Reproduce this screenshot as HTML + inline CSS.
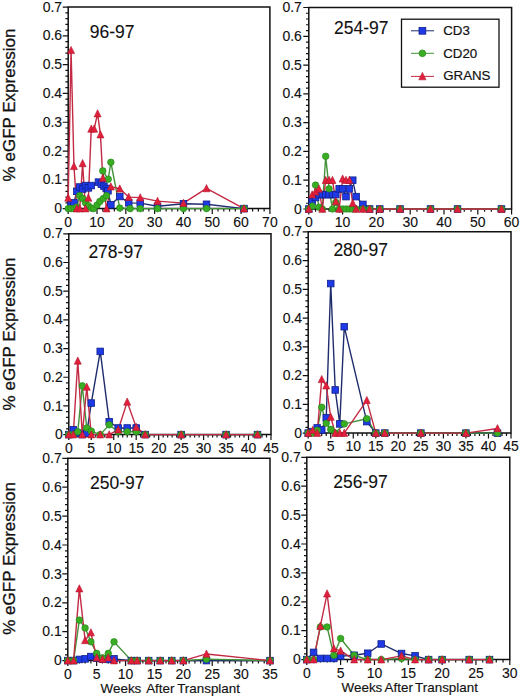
<!DOCTYPE html>
<html><head><meta charset="utf-8"><style>
html,body{margin:0;padding:0;background:#fff;overflow:hidden;width:520px;height:696px;}
svg{display:block;}
text{font-family:"Liberation Sans", sans-serif;fill:#111;}
.t{font-size:14px;stroke:#111;stroke-width:0.12px;}
.ti{font-size:17.5px;stroke:#111;stroke-width:0.1px;}
.yl{font-size:17px;stroke:#111;stroke-width:0.3px;}
.xl{font-size:13.4px;stroke:#111;stroke-width:0.15px;}
.lg{font-size:13.3px;stroke:#111;stroke-width:0.2px;}
</style></head><body>
<svg width="520" height="696" viewBox="0 0 520 696">
<rect width="520" height="696" fill="#fff"/>
<path d="M68.2 7.1H269.9V208.6H68.2Z" fill="none" stroke="#111" stroke-width="1.5"/>
<path d="M62.7 208.6H68.2M65.4 202.84H68.2M65.4 197.09H68.2M65.4 191.33H68.2M65.4 185.57H68.2M62.7 179.81H68.2M65.4 174.06H68.2M65.4 168.3H68.2M65.4 162.54H68.2M65.4 156.79H68.2M62.7 151.03H68.2M65.4 145.27H68.2M65.4 139.51H68.2M65.4 133.76H68.2M65.4 128H68.2M62.7 122.24H68.2M65.4 116.49H68.2M65.4 110.73H68.2M65.4 104.97H68.2M65.4 99.21H68.2M62.7 93.46H68.2M65.4 87.7H68.2M65.4 81.94H68.2M65.4 76.19H68.2M65.4 70.43H68.2M62.7 64.67H68.2M65.4 58.91H68.2M65.4 53.16H68.2M65.4 47.4H68.2M65.4 41.64H68.2M62.7 35.89H68.2M65.4 30.13H68.2M65.4 24.37H68.2M65.4 18.61H68.2M65.4 12.86H68.2M62.7 7.1H68.2M68.2 208.6V214.1M73.96 208.6V211.4M79.73 208.6V211.4M85.49 208.6V211.4M91.25 208.6V211.4M97.01 208.6V214.1M102.78 208.6V211.4M108.54 208.6V211.4M114.3 208.6V211.4M120.07 208.6V211.4M125.83 208.6V214.1M131.59 208.6V211.4M137.35 208.6V211.4M143.12 208.6V211.4M148.88 208.6V211.4M154.64 208.6V214.1M160.41 208.6V211.4M166.17 208.6V211.4M171.93 208.6V211.4M177.69 208.6V211.4M183.46 208.6V214.1M189.22 208.6V211.4M194.98 208.6V211.4M200.75 208.6V211.4M206.51 208.6V211.4M212.27 208.6V214.1M218.03 208.6V211.4M223.8 208.6V211.4M229.56 208.6V211.4M235.32 208.6V211.4M241.09 208.6V214.1M246.85 208.6V211.4M252.61 208.6V211.4M258.37 208.6V211.4M264.14 208.6V211.4M269.9 208.6V214.1" fill="none" stroke="#111" stroke-width="1.2"/>
<text x="62.1" y="213.2" text-anchor="end" class="t">0</text>
<text x="62.1" y="184.41" text-anchor="end" class="t">0.1</text>
<text x="62.1" y="155.63" text-anchor="end" class="t">0.2</text>
<text x="62.1" y="126.84" text-anchor="end" class="t">0.3</text>
<text x="62.1" y="98.06" text-anchor="end" class="t">0.4</text>
<text x="62.1" y="69.27" text-anchor="end" class="t">0.5</text>
<text x="62.1" y="40.49" text-anchor="end" class="t">0.6</text>
<text x="62.1" y="11.7" text-anchor="end" class="t">0.7</text>
<text x="68.2" y="226.6" text-anchor="middle" class="t">0</text>
<text x="97.01" y="226.6" text-anchor="middle" class="t">10</text>
<text x="125.83" y="226.6" text-anchor="middle" class="t">20</text>
<text x="154.64" y="226.6" text-anchor="middle" class="t">30</text>
<text x="183.46" y="226.6" text-anchor="middle" class="t">40</text>
<text x="212.27" y="226.6" text-anchor="middle" class="t">50</text>
<text x="241.09" y="226.6" text-anchor="middle" class="t">60</text>
<text x="269.9" y="226.6" text-anchor="middle" class="t">70</text>
<text x="89.7" y="37.9" class="ti">96-97</text>
<path d="M71.08 204.28L73.96 202.84L76.84 191.33L79.73 187.01L82.61 189.03L85.49 185.57L88.37 187.87L91.25 185.57L98.45 182.12L101.34 184.13L103.93 186.15L106.23 188.45L107.96 190.75L110.85 204.86L119.78 196.51L128.71 202.84L140.24 203.13L157.52 206.3L183.46 203.71L206.51 204.28L243.97 208.6" fill="none" stroke="#1f2d6e" stroke-width="1.4" stroke-linejoin="round"/>
<path d="M68.2 208.6L71.08 208.6L73.96 208.6L76.84 207.16L79.73 195.65L82.61 198.52L85.49 202.84L88.37 205.72L91.25 208.02L93.56 208.6L97.01 205.15L99.9 201.4L103.35 198.52L106.52 195.65L102.78 170.89L108.25 179.24L110.85 162.25L119.78 208.02L130.15 208.6L140.24 208.6L157.52 208.6L183.46 208.6L206.51 208.6L243.97 208.6" fill="none" stroke="#43933a" stroke-width="1.4" stroke-linejoin="round"/>
<path d="M68.2 197.95L71.08 50.28L73.96 166.28L76.84 208.6L79.73 208.6L82.61 163.41L85.49 208.6L88.37 197.95L91.25 128.86L94.13 128.86L97.59 113.61L100.47 134.62L102.78 178.09L106.52 208.6L110.85 186.72L119.78 188.74L128.71 197.09L140.24 197.66L157.52 201.12L183.46 203.13L206.51 188.45L243.97 208.6" fill="none" stroke="#c32a44" stroke-width="1.4" stroke-linejoin="round"/>
<rect x="67.78" y="200.98" width="6.6" height="6.6" fill="#1e3ae6" stroke="#12208a" stroke-width="0.8"/>
<rect x="70.66" y="199.54" width="6.6" height="6.6" fill="#1e3ae6" stroke="#12208a" stroke-width="0.8"/>
<rect x="73.54" y="188.03" width="6.6" height="6.6" fill="#1e3ae6" stroke="#12208a" stroke-width="0.8"/>
<rect x="76.43" y="183.71" width="6.6" height="6.6" fill="#1e3ae6" stroke="#12208a" stroke-width="0.8"/>
<rect x="79.31" y="185.73" width="6.6" height="6.6" fill="#1e3ae6" stroke="#12208a" stroke-width="0.8"/>
<rect x="82.19" y="182.27" width="6.6" height="6.6" fill="#1e3ae6" stroke="#12208a" stroke-width="0.8"/>
<rect x="85.07" y="184.57" width="6.6" height="6.6" fill="#1e3ae6" stroke="#12208a" stroke-width="0.8"/>
<rect x="87.95" y="182.27" width="6.6" height="6.6" fill="#1e3ae6" stroke="#12208a" stroke-width="0.8"/>
<rect x="95.16" y="178.82" width="6.6" height="6.6" fill="#1e3ae6" stroke="#12208a" stroke-width="0.8"/>
<rect x="98.04" y="180.83" width="6.6" height="6.6" fill="#1e3ae6" stroke="#12208a" stroke-width="0.8"/>
<rect x="100.63" y="182.85" width="6.6" height="6.6" fill="#1e3ae6" stroke="#12208a" stroke-width="0.8"/>
<rect x="102.93" y="185.15" width="6.6" height="6.6" fill="#1e3ae6" stroke="#12208a" stroke-width="0.8"/>
<rect x="104.66" y="187.45" width="6.6" height="6.6" fill="#1e3ae6" stroke="#12208a" stroke-width="0.8"/>
<rect x="107.55" y="201.56" width="6.6" height="6.6" fill="#1e3ae6" stroke="#12208a" stroke-width="0.8"/>
<rect x="116.48" y="193.21" width="6.6" height="6.6" fill="#1e3ae6" stroke="#12208a" stroke-width="0.8"/>
<rect x="125.41" y="199.54" width="6.6" height="6.6" fill="#1e3ae6" stroke="#12208a" stroke-width="0.8"/>
<rect x="136.94" y="199.83" width="6.6" height="6.6" fill="#1e3ae6" stroke="#12208a" stroke-width="0.8"/>
<rect x="154.22" y="203" width="6.6" height="6.6" fill="#1e3ae6" stroke="#12208a" stroke-width="0.8"/>
<rect x="180.16" y="200.41" width="6.6" height="6.6" fill="#1e3ae6" stroke="#12208a" stroke-width="0.8"/>
<rect x="203.21" y="200.98" width="6.6" height="6.6" fill="#1e3ae6" stroke="#12208a" stroke-width="0.8"/>
<rect x="240.67" y="205.3" width="6.6" height="6.6" fill="#1e3ae6" stroke="#12208a" stroke-width="0.8"/>
<circle cx="68.2" cy="208.6" r="3.3" fill="#3aae22" stroke="#20801a" stroke-width="0.6"/>
<circle cx="71.08" cy="208.6" r="3.3" fill="#3aae22" stroke="#20801a" stroke-width="0.6"/>
<circle cx="73.96" cy="208.6" r="3.3" fill="#3aae22" stroke="#20801a" stroke-width="0.6"/>
<circle cx="76.84" cy="207.16" r="3.3" fill="#3aae22" stroke="#20801a" stroke-width="0.6"/>
<circle cx="79.73" cy="195.65" r="3.3" fill="#3aae22" stroke="#20801a" stroke-width="0.6"/>
<circle cx="82.61" cy="198.52" r="3.3" fill="#3aae22" stroke="#20801a" stroke-width="0.6"/>
<circle cx="85.49" cy="202.84" r="3.3" fill="#3aae22" stroke="#20801a" stroke-width="0.6"/>
<circle cx="88.37" cy="205.72" r="3.3" fill="#3aae22" stroke="#20801a" stroke-width="0.6"/>
<circle cx="91.25" cy="208.02" r="3.3" fill="#3aae22" stroke="#20801a" stroke-width="0.6"/>
<circle cx="93.56" cy="208.6" r="3.3" fill="#3aae22" stroke="#20801a" stroke-width="0.6"/>
<circle cx="97.01" cy="205.15" r="3.3" fill="#3aae22" stroke="#20801a" stroke-width="0.6"/>
<circle cx="99.9" cy="201.4" r="3.3" fill="#3aae22" stroke="#20801a" stroke-width="0.6"/>
<circle cx="103.35" cy="198.52" r="3.3" fill="#3aae22" stroke="#20801a" stroke-width="0.6"/>
<circle cx="106.52" cy="195.65" r="3.3" fill="#3aae22" stroke="#20801a" stroke-width="0.6"/>
<circle cx="102.78" cy="170.89" r="3.3" fill="#3aae22" stroke="#20801a" stroke-width="0.6"/>
<circle cx="108.25" cy="179.24" r="3.3" fill="#3aae22" stroke="#20801a" stroke-width="0.6"/>
<circle cx="110.85" cy="162.25" r="3.3" fill="#3aae22" stroke="#20801a" stroke-width="0.6"/>
<circle cx="119.78" cy="208.02" r="3.3" fill="#3aae22" stroke="#20801a" stroke-width="0.6"/>
<circle cx="130.15" cy="208.6" r="3.3" fill="#3aae22" stroke="#20801a" stroke-width="0.6"/>
<circle cx="140.24" cy="208.6" r="3.3" fill="#3aae22" stroke="#20801a" stroke-width="0.6"/>
<circle cx="157.52" cy="208.6" r="3.3" fill="#3aae22" stroke="#20801a" stroke-width="0.6"/>
<circle cx="183.46" cy="208.6" r="3.3" fill="#3aae22" stroke="#20801a" stroke-width="0.6"/>
<circle cx="206.51" cy="208.6" r="3.3" fill="#3aae22" stroke="#20801a" stroke-width="0.6"/>
<circle cx="243.97" cy="208.6" r="3.3" fill="#3aae22" stroke="#20801a" stroke-width="0.6"/>
<path d="M68.2 194.05L71.7 201.25L64.7 201.25Z" fill="#e2203c" stroke="#b0142c" stroke-width="0.6"/>
<path d="M71.08 46.38L74.58 53.58L67.58 53.58Z" fill="#e2203c" stroke="#b0142c" stroke-width="0.6"/>
<path d="M73.96 162.38L77.46 169.59L70.46 169.59Z" fill="#e2203c" stroke="#b0142c" stroke-width="0.6"/>
<path d="M76.84 204.7L80.34 211.9L73.34 211.9Z" fill="#e2203c" stroke="#b0142c" stroke-width="0.6"/>
<path d="M79.73 204.7L83.23 211.9L76.23 211.9Z" fill="#e2203c" stroke="#b0142c" stroke-width="0.6"/>
<path d="M82.61 159.51L86.11 166.71L79.11 166.71Z" fill="#e2203c" stroke="#b0142c" stroke-width="0.6"/>
<path d="M85.49 204.7L88.99 211.9L81.99 211.9Z" fill="#e2203c" stroke="#b0142c" stroke-width="0.6"/>
<path d="M88.37 194.05L91.87 201.25L84.87 201.25Z" fill="#e2203c" stroke="#b0142c" stroke-width="0.6"/>
<path d="M91.25 124.96L94.75 132.16L87.75 132.16Z" fill="#e2203c" stroke="#b0142c" stroke-width="0.6"/>
<path d="M94.13 124.96L97.63 132.16L90.63 132.16Z" fill="#e2203c" stroke="#b0142c" stroke-width="0.6"/>
<path d="M97.59 109.71L101.09 116.91L94.09 116.91Z" fill="#e2203c" stroke="#b0142c" stroke-width="0.6"/>
<path d="M100.47 130.72L103.97 137.92L96.97 137.92Z" fill="#e2203c" stroke="#b0142c" stroke-width="0.6"/>
<path d="M102.78 174.19L106.28 181.39L99.28 181.39Z" fill="#e2203c" stroke="#b0142c" stroke-width="0.6"/>
<path d="M106.52 204.7L110.02 211.9L103.02 211.9Z" fill="#e2203c" stroke="#b0142c" stroke-width="0.6"/>
<path d="M110.85 182.82L114.35 190.02L107.35 190.02Z" fill="#e2203c" stroke="#b0142c" stroke-width="0.6"/>
<path d="M119.78 184.84L123.28 192.04L116.28 192.04Z" fill="#e2203c" stroke="#b0142c" stroke-width="0.6"/>
<path d="M128.71 193.19L132.21 200.39L125.21 200.39Z" fill="#e2203c" stroke="#b0142c" stroke-width="0.6"/>
<path d="M140.24 193.76L143.74 200.96L136.74 200.96Z" fill="#e2203c" stroke="#b0142c" stroke-width="0.6"/>
<path d="M157.52 197.22L161.02 204.42L154.02 204.42Z" fill="#e2203c" stroke="#b0142c" stroke-width="0.6"/>
<path d="M183.46 199.23L186.96 206.43L179.96 206.43Z" fill="#e2203c" stroke="#b0142c" stroke-width="0.6"/>
<path d="M206.51 184.55L210.01 191.75L203.01 191.75Z" fill="#e2203c" stroke="#b0142c" stroke-width="0.6"/>
<path d="M243.97 204.7L247.47 211.9L240.47 211.9Z" fill="#e2203c" stroke="#b0142c" stroke-width="0.6"/>
<path d="M308.8 7.5H511.6V209H308.8Z" fill="none" stroke="#111" stroke-width="1.5"/>
<path d="M303.3 209H308.8M306 203.24H308.8M306 197.49H308.8M306 191.73H308.8M306 185.97H308.8M303.3 180.21H308.8M306 174.46H308.8M306 168.7H308.8M306 162.94H308.8M306 157.19H308.8M303.3 151.43H308.8M306 145.67H308.8M306 139.91H308.8M306 134.16H308.8M306 128.4H308.8M303.3 122.64H308.8M306 116.89H308.8M306 111.13H308.8M306 105.37H308.8M306 99.61H308.8M303.3 93.86H308.8M306 88.1H308.8M306 82.34H308.8M306 76.59H308.8M306 70.83H308.8M303.3 65.07H308.8M306 59.31H308.8M306 53.56H308.8M306 47.8H308.8M306 42.04H308.8M303.3 36.29H308.8M306 30.53H308.8M306 24.77H308.8M306 19.01H308.8M306 13.26H308.8M303.3 7.5H308.8M308.8 209V214.5M315.56 209V211.8M322.32 209V211.8M329.08 209V211.8M335.84 209V211.8M342.6 209V214.5M349.36 209V211.8M356.12 209V211.8M362.88 209V211.8M369.64 209V211.8M376.4 209V214.5M383.16 209V211.8M389.92 209V211.8M396.68 209V211.8M403.44 209V211.8M410.2 209V214.5M416.96 209V211.8M423.72 209V211.8M430.48 209V211.8M437.24 209V211.8M444 209V214.5M450.76 209V211.8M457.52 209V211.8M464.28 209V211.8M471.04 209V211.8M477.8 209V214.5M484.56 209V211.8M491.32 209V211.8M498.08 209V211.8M504.84 209V211.8M511.6 209V214.5" fill="none" stroke="#111" stroke-width="1.2"/>
<text x="301.9" y="213.6" text-anchor="end" class="t">0</text>
<text x="301.9" y="184.81" text-anchor="end" class="t">0.1</text>
<text x="301.9" y="156.03" text-anchor="end" class="t">0.2</text>
<text x="301.9" y="127.24" text-anchor="end" class="t">0.3</text>
<text x="301.9" y="98.46" text-anchor="end" class="t">0.4</text>
<text x="301.9" y="69.67" text-anchor="end" class="t">0.5</text>
<text x="301.9" y="40.89" text-anchor="end" class="t">0.6</text>
<text x="301.9" y="12.1" text-anchor="end" class="t">0.7</text>
<text x="308.8" y="227" text-anchor="middle" class="t">0</text>
<text x="342.6" y="227" text-anchor="middle" class="t">10</text>
<text x="376.4" y="227" text-anchor="middle" class="t">20</text>
<text x="410.2" y="227" text-anchor="middle" class="t">30</text>
<text x="444" y="227" text-anchor="middle" class="t">40</text>
<text x="477.8" y="227" text-anchor="middle" class="t">50</text>
<text x="511.6" y="227" text-anchor="middle" class="t">60</text>
<text x="334" y="33.8" class="ti">254-97</text>
<path d="M308.8 209L312.18 201.52L315.56 197.49L318.94 194.61L322.32 194.61L325.7 194.61L329.08 194.61L332.46 194.61L335.84 194.61L339.22 188.85L342.6 188.85L345.98 196.62L349.36 188.85L352.74 180.21L356.12 196.62L362.88 204.39L369.64 209L379.78 209L400.06 209L430.48 209L457.52 209L501.46 209" fill="none" stroke="#1f2d6e" stroke-width="1.4" stroke-linejoin="round"/>
<path d="M308.8 209L312.18 206.12L315.56 185.11L318.94 207.27L322.32 209L325.7 156.32L329.08 188.85L332.46 209L335.84 202.38L339.22 209L342.6 209L345.98 209L349.36 209L352.74 209L356.12 209L362.88 209L369.64 209L379.78 209L400.06 209L430.48 209L457.52 209L501.46 209" fill="none" stroke="#43933a" stroke-width="1.4" stroke-linejoin="round"/>
<path d="M308.8 209L312.18 194.61L315.56 191.73L318.94 188.85L322.32 209L325.7 180.21L329.08 180.21L332.46 180.21L335.84 201.52L339.22 209L342.6 178.78L345.98 180.21L349.36 180.21L352.74 203.24L356.12 209L362.88 209L369.64 209L379.78 209L400.06 209L430.48 209L457.52 209L501.46 209" fill="none" stroke="#c32a44" stroke-width="1.4" stroke-linejoin="round"/>
<rect x="305.5" y="205.7" width="6.6" height="6.6" fill="#1e3ae6" stroke="#12208a" stroke-width="0.8"/>
<rect x="308.88" y="198.22" width="6.6" height="6.6" fill="#1e3ae6" stroke="#12208a" stroke-width="0.8"/>
<rect x="312.26" y="194.19" width="6.6" height="6.6" fill="#1e3ae6" stroke="#12208a" stroke-width="0.8"/>
<rect x="315.64" y="191.31" width="6.6" height="6.6" fill="#1e3ae6" stroke="#12208a" stroke-width="0.8"/>
<rect x="319.02" y="191.31" width="6.6" height="6.6" fill="#1e3ae6" stroke="#12208a" stroke-width="0.8"/>
<rect x="322.4" y="191.31" width="6.6" height="6.6" fill="#1e3ae6" stroke="#12208a" stroke-width="0.8"/>
<rect x="325.78" y="191.31" width="6.6" height="6.6" fill="#1e3ae6" stroke="#12208a" stroke-width="0.8"/>
<rect x="329.16" y="191.31" width="6.6" height="6.6" fill="#1e3ae6" stroke="#12208a" stroke-width="0.8"/>
<rect x="332.54" y="191.31" width="6.6" height="6.6" fill="#1e3ae6" stroke="#12208a" stroke-width="0.8"/>
<rect x="335.92" y="185.55" width="6.6" height="6.6" fill="#1e3ae6" stroke="#12208a" stroke-width="0.8"/>
<rect x="339.3" y="185.55" width="6.6" height="6.6" fill="#1e3ae6" stroke="#12208a" stroke-width="0.8"/>
<rect x="342.68" y="193.32" width="6.6" height="6.6" fill="#1e3ae6" stroke="#12208a" stroke-width="0.8"/>
<rect x="346.06" y="185.55" width="6.6" height="6.6" fill="#1e3ae6" stroke="#12208a" stroke-width="0.8"/>
<rect x="349.44" y="176.91" width="6.6" height="6.6" fill="#1e3ae6" stroke="#12208a" stroke-width="0.8"/>
<rect x="352.82" y="193.32" width="6.6" height="6.6" fill="#1e3ae6" stroke="#12208a" stroke-width="0.8"/>
<rect x="359.58" y="201.09" width="6.6" height="6.6" fill="#1e3ae6" stroke="#12208a" stroke-width="0.8"/>
<rect x="366.34" y="205.7" width="6.6" height="6.6" fill="#1e3ae6" stroke="#12208a" stroke-width="0.8"/>
<rect x="376.48" y="205.7" width="6.6" height="6.6" fill="#1e3ae6" stroke="#12208a" stroke-width="0.8"/>
<rect x="396.76" y="205.7" width="6.6" height="6.6" fill="#1e3ae6" stroke="#12208a" stroke-width="0.8"/>
<rect x="427.18" y="205.7" width="6.6" height="6.6" fill="#1e3ae6" stroke="#12208a" stroke-width="0.8"/>
<rect x="454.22" y="205.7" width="6.6" height="6.6" fill="#1e3ae6" stroke="#12208a" stroke-width="0.8"/>
<rect x="498.16" y="205.7" width="6.6" height="6.6" fill="#1e3ae6" stroke="#12208a" stroke-width="0.8"/>
<circle cx="308.8" cy="209" r="3.3" fill="#3aae22" stroke="#20801a" stroke-width="0.6"/>
<circle cx="312.18" cy="206.12" r="3.3" fill="#3aae22" stroke="#20801a" stroke-width="0.6"/>
<circle cx="315.56" cy="185.11" r="3.3" fill="#3aae22" stroke="#20801a" stroke-width="0.6"/>
<circle cx="318.94" cy="207.27" r="3.3" fill="#3aae22" stroke="#20801a" stroke-width="0.6"/>
<circle cx="322.32" cy="209" r="3.3" fill="#3aae22" stroke="#20801a" stroke-width="0.6"/>
<circle cx="325.7" cy="156.32" r="3.3" fill="#3aae22" stroke="#20801a" stroke-width="0.6"/>
<circle cx="329.08" cy="188.85" r="3.3" fill="#3aae22" stroke="#20801a" stroke-width="0.6"/>
<circle cx="332.46" cy="209" r="3.3" fill="#3aae22" stroke="#20801a" stroke-width="0.6"/>
<circle cx="335.84" cy="202.38" r="3.3" fill="#3aae22" stroke="#20801a" stroke-width="0.6"/>
<circle cx="339.22" cy="209" r="3.3" fill="#3aae22" stroke="#20801a" stroke-width="0.6"/>
<circle cx="342.6" cy="209" r="3.3" fill="#3aae22" stroke="#20801a" stroke-width="0.6"/>
<circle cx="345.98" cy="209" r="3.3" fill="#3aae22" stroke="#20801a" stroke-width="0.6"/>
<circle cx="349.36" cy="209" r="3.3" fill="#3aae22" stroke="#20801a" stroke-width="0.6"/>
<circle cx="352.74" cy="209" r="3.3" fill="#3aae22" stroke="#20801a" stroke-width="0.6"/>
<circle cx="356.12" cy="209" r="3.3" fill="#3aae22" stroke="#20801a" stroke-width="0.6"/>
<circle cx="362.88" cy="209" r="3.3" fill="#3aae22" stroke="#20801a" stroke-width="0.6"/>
<circle cx="369.64" cy="209" r="3.3" fill="#3aae22" stroke="#20801a" stroke-width="0.6"/>
<circle cx="379.78" cy="209" r="3.3" fill="#3aae22" stroke="#20801a" stroke-width="0.6"/>
<circle cx="400.06" cy="209" r="3.3" fill="#3aae22" stroke="#20801a" stroke-width="0.6"/>
<circle cx="430.48" cy="209" r="3.3" fill="#3aae22" stroke="#20801a" stroke-width="0.6"/>
<circle cx="457.52" cy="209" r="3.3" fill="#3aae22" stroke="#20801a" stroke-width="0.6"/>
<circle cx="501.46" cy="209" r="3.3" fill="#3aae22" stroke="#20801a" stroke-width="0.6"/>
<path d="M308.8 205.1L312.3 212.3L305.3 212.3Z" fill="#e2203c" stroke="#b0142c" stroke-width="0.6"/>
<path d="M312.18 190.71L315.68 197.91L308.68 197.91Z" fill="#e2203c" stroke="#b0142c" stroke-width="0.6"/>
<path d="M315.56 187.83L319.06 195.03L312.06 195.03Z" fill="#e2203c" stroke="#b0142c" stroke-width="0.6"/>
<path d="M318.94 184.95L322.44 192.15L315.44 192.15Z" fill="#e2203c" stroke="#b0142c" stroke-width="0.6"/>
<path d="M322.32 205.1L325.82 212.3L318.82 212.3Z" fill="#e2203c" stroke="#b0142c" stroke-width="0.6"/>
<path d="M325.7 176.31L329.2 183.51L322.2 183.51Z" fill="#e2203c" stroke="#b0142c" stroke-width="0.6"/>
<path d="M329.08 176.31L332.58 183.51L325.58 183.51Z" fill="#e2203c" stroke="#b0142c" stroke-width="0.6"/>
<path d="M332.46 176.31L335.96 183.51L328.96 183.51Z" fill="#e2203c" stroke="#b0142c" stroke-width="0.6"/>
<path d="M335.84 197.62L339.34 204.82L332.34 204.82Z" fill="#e2203c" stroke="#b0142c" stroke-width="0.6"/>
<path d="M339.22 205.1L342.72 212.3L335.72 212.3Z" fill="#e2203c" stroke="#b0142c" stroke-width="0.6"/>
<path d="M342.6 174.88L346.1 182.08L339.1 182.08Z" fill="#e2203c" stroke="#b0142c" stroke-width="0.6"/>
<path d="M345.98 176.31L349.48 183.51L342.48 183.51Z" fill="#e2203c" stroke="#b0142c" stroke-width="0.6"/>
<path d="M349.36 176.31L352.86 183.51L345.86 183.51Z" fill="#e2203c" stroke="#b0142c" stroke-width="0.6"/>
<path d="M352.74 199.34L356.24 206.54L349.24 206.54Z" fill="#e2203c" stroke="#b0142c" stroke-width="0.6"/>
<path d="M356.12 205.1L359.62 212.3L352.62 212.3Z" fill="#e2203c" stroke="#b0142c" stroke-width="0.6"/>
<path d="M362.88 205.1L366.38 212.3L359.38 212.3Z" fill="#e2203c" stroke="#b0142c" stroke-width="0.6"/>
<path d="M369.64 205.1L373.14 212.3L366.14 212.3Z" fill="#e2203c" stroke="#b0142c" stroke-width="0.6"/>
<path d="M379.78 205.1L383.28 212.3L376.28 212.3Z" fill="#e2203c" stroke="#b0142c" stroke-width="0.6"/>
<path d="M400.06 205.1L403.56 212.3L396.56 212.3Z" fill="#e2203c" stroke="#b0142c" stroke-width="0.6"/>
<path d="M430.48 205.1L433.98 212.3L426.98 212.3Z" fill="#e2203c" stroke="#b0142c" stroke-width="0.6"/>
<path d="M457.52 205.1L461.02 212.3L454.02 212.3Z" fill="#e2203c" stroke="#b0142c" stroke-width="0.6"/>
<path d="M501.46 205.1L504.96 212.3L497.96 212.3Z" fill="#e2203c" stroke="#b0142c" stroke-width="0.6"/>
<path d="M68.8 233.8H271V434.6H68.8Z" fill="none" stroke="#111" stroke-width="1.5"/>
<path d="M63.3 434.6H68.8M66 428.86H68.8M66 423.13H68.8M66 417.39H68.8M66 411.65H68.8M63.3 405.91H68.8M66 400.18H68.8M66 394.44H68.8M66 388.7H68.8M66 382.97H68.8M63.3 377.23H68.8M66 371.49H68.8M66 365.75H68.8M66 360.02H68.8M66 354.28H68.8M63.3 348.54H68.8M66 342.81H68.8M66 337.07H68.8M66 331.33H68.8M66 325.59H68.8M63.3 319.86H68.8M66 314.12H68.8M66 308.38H68.8M66 302.65H68.8M66 296.91H68.8M63.3 291.17H68.8M66 285.43H68.8M66 279.7H68.8M66 273.96H68.8M66 268.22H68.8M63.3 262.49H68.8M66 256.75H68.8M66 251.01H68.8M66 245.27H68.8M66 239.54H68.8M63.3 233.8H68.8M68.8 434.6V440.1M73.29 434.6V437.4M77.79 434.6V437.4M82.28 434.6V437.4M86.77 434.6V437.4M91.27 434.6V440.1M95.76 434.6V437.4M100.25 434.6V437.4M104.75 434.6V437.4M109.24 434.6V437.4M113.73 434.6V440.1M118.23 434.6V437.4M122.72 434.6V437.4M127.21 434.6V437.4M131.71 434.6V437.4M136.2 434.6V440.1M140.69 434.6V437.4M145.19 434.6V437.4M149.68 434.6V437.4M154.17 434.6V437.4M158.67 434.6V440.1M163.16 434.6V437.4M167.65 434.6V437.4M172.15 434.6V437.4M176.64 434.6V437.4M181.13 434.6V440.1M185.63 434.6V437.4M190.12 434.6V437.4M194.61 434.6V437.4M199.11 434.6V437.4M203.6 434.6V440.1M208.09 434.6V437.4M212.59 434.6V437.4M217.08 434.6V437.4M221.57 434.6V437.4M226.07 434.6V440.1M230.56 434.6V437.4M235.05 434.6V437.4M239.55 434.6V437.4M244.04 434.6V437.4M248.53 434.6V440.1M253.03 434.6V437.4M257.52 434.6V437.4M262.01 434.6V437.4M266.51 434.6V437.4M271 434.6V440.1" fill="none" stroke="#111" stroke-width="1.2"/>
<text x="62.7" y="439.2" text-anchor="end" class="t">0</text>
<text x="62.7" y="410.51" text-anchor="end" class="t">0.1</text>
<text x="62.7" y="381.83" text-anchor="end" class="t">0.2</text>
<text x="62.7" y="353.14" text-anchor="end" class="t">0.3</text>
<text x="62.7" y="324.46" text-anchor="end" class="t">0.4</text>
<text x="62.7" y="295.77" text-anchor="end" class="t">0.5</text>
<text x="62.7" y="267.09" text-anchor="end" class="t">0.6</text>
<text x="62.7" y="238.4" text-anchor="end" class="t">0.7</text>
<text x="68.8" y="452.6" text-anchor="middle" class="t">0</text>
<text x="91.27" y="452.6" text-anchor="middle" class="t">5</text>
<text x="113.73" y="452.6" text-anchor="middle" class="t">10</text>
<text x="136.2" y="452.6" text-anchor="middle" class="t">15</text>
<text x="158.67" y="452.6" text-anchor="middle" class="t">20</text>
<text x="181.13" y="452.6" text-anchor="middle" class="t">25</text>
<text x="203.6" y="452.6" text-anchor="middle" class="t">30</text>
<text x="226.07" y="452.6" text-anchor="middle" class="t">35</text>
<text x="248.53" y="452.6" text-anchor="middle" class="t">40</text>
<text x="271" y="452.6" text-anchor="middle" class="t">45</text>
<text x="88.4" y="258.2" class="ti">278-97</text>
<path d="M68.8 434.6L73.29 429.72L77.79 433.17L82.28 434.6L86.77 433.17L91.27 403.05L100.25 351.41L109.24 421.69L118.23 428L127.21 428L136.2 428L145.19 434.6L181.13 434.6L226.07 434.6L257.52 434.6" fill="none" stroke="#1f2d6e" stroke-width="1.4" stroke-linejoin="round"/>
<path d="M68.8 434.6L73.29 434.6L77.79 431.73L82.28 385.83L86.77 428L91.27 431.16L100.25 434.6L109.24 424.85L118.23 431.73L127.21 431.73L136.2 431.73L145.19 434.6L181.13 434.6L226.07 434.6L257.52 434.6" fill="none" stroke="#43933a" stroke-width="1.4" stroke-linejoin="round"/>
<path d="M68.8 434.6L73.29 434.6L77.79 360.88L82.28 434.6L86.77 386.98L91.27 434.6L100.25 434.6L109.24 434.6L118.23 429.72L127.21 401.9L136.2 427.14L145.19 434.6L181.13 434.6L226.07 434.6L257.52 434.6" fill="none" stroke="#c32a44" stroke-width="1.4" stroke-linejoin="round"/>
<rect x="65.5" y="431.3" width="6.6" height="6.6" fill="#1e3ae6" stroke="#12208a" stroke-width="0.8"/>
<rect x="69.99" y="426.42" width="6.6" height="6.6" fill="#1e3ae6" stroke="#12208a" stroke-width="0.8"/>
<rect x="74.49" y="429.87" width="6.6" height="6.6" fill="#1e3ae6" stroke="#12208a" stroke-width="0.8"/>
<rect x="78.98" y="431.3" width="6.6" height="6.6" fill="#1e3ae6" stroke="#12208a" stroke-width="0.8"/>
<rect x="83.47" y="429.87" width="6.6" height="6.6" fill="#1e3ae6" stroke="#12208a" stroke-width="0.8"/>
<rect x="87.97" y="399.75" width="6.6" height="6.6" fill="#1e3ae6" stroke="#12208a" stroke-width="0.8"/>
<rect x="96.95" y="348.11" width="6.6" height="6.6" fill="#1e3ae6" stroke="#12208a" stroke-width="0.8"/>
<rect x="105.94" y="418.39" width="6.6" height="6.6" fill="#1e3ae6" stroke="#12208a" stroke-width="0.8"/>
<rect x="114.93" y="424.7" width="6.6" height="6.6" fill="#1e3ae6" stroke="#12208a" stroke-width="0.8"/>
<rect x="123.91" y="424.7" width="6.6" height="6.6" fill="#1e3ae6" stroke="#12208a" stroke-width="0.8"/>
<rect x="132.9" y="424.7" width="6.6" height="6.6" fill="#1e3ae6" stroke="#12208a" stroke-width="0.8"/>
<rect x="141.89" y="431.3" width="6.6" height="6.6" fill="#1e3ae6" stroke="#12208a" stroke-width="0.8"/>
<rect x="177.83" y="431.3" width="6.6" height="6.6" fill="#1e3ae6" stroke="#12208a" stroke-width="0.8"/>
<rect x="222.77" y="431.3" width="6.6" height="6.6" fill="#1e3ae6" stroke="#12208a" stroke-width="0.8"/>
<rect x="254.22" y="431.3" width="6.6" height="6.6" fill="#1e3ae6" stroke="#12208a" stroke-width="0.8"/>
<circle cx="68.8" cy="434.6" r="3.3" fill="#3aae22" stroke="#20801a" stroke-width="0.6"/>
<circle cx="73.29" cy="434.6" r="3.3" fill="#3aae22" stroke="#20801a" stroke-width="0.6"/>
<circle cx="77.79" cy="431.73" r="3.3" fill="#3aae22" stroke="#20801a" stroke-width="0.6"/>
<circle cx="82.28" cy="385.83" r="3.3" fill="#3aae22" stroke="#20801a" stroke-width="0.6"/>
<circle cx="86.77" cy="428" r="3.3" fill="#3aae22" stroke="#20801a" stroke-width="0.6"/>
<circle cx="91.27" cy="431.16" r="3.3" fill="#3aae22" stroke="#20801a" stroke-width="0.6"/>
<circle cx="100.25" cy="434.6" r="3.3" fill="#3aae22" stroke="#20801a" stroke-width="0.6"/>
<circle cx="109.24" cy="424.85" r="3.3" fill="#3aae22" stroke="#20801a" stroke-width="0.6"/>
<circle cx="118.23" cy="431.73" r="3.3" fill="#3aae22" stroke="#20801a" stroke-width="0.6"/>
<circle cx="127.21" cy="431.73" r="3.3" fill="#3aae22" stroke="#20801a" stroke-width="0.6"/>
<circle cx="136.2" cy="431.73" r="3.3" fill="#3aae22" stroke="#20801a" stroke-width="0.6"/>
<circle cx="145.19" cy="434.6" r="3.3" fill="#3aae22" stroke="#20801a" stroke-width="0.6"/>
<circle cx="181.13" cy="434.6" r="3.3" fill="#3aae22" stroke="#20801a" stroke-width="0.6"/>
<circle cx="226.07" cy="434.6" r="3.3" fill="#3aae22" stroke="#20801a" stroke-width="0.6"/>
<circle cx="257.52" cy="434.6" r="3.3" fill="#3aae22" stroke="#20801a" stroke-width="0.6"/>
<path d="M68.8 430.7L72.3 437.9L65.3 437.9Z" fill="#e2203c" stroke="#b0142c" stroke-width="0.6"/>
<path d="M73.29 430.7L76.79 437.9L69.79 437.9Z" fill="#e2203c" stroke="#b0142c" stroke-width="0.6"/>
<path d="M77.79 356.98L81.29 364.18L74.29 364.18Z" fill="#e2203c" stroke="#b0142c" stroke-width="0.6"/>
<path d="M82.28 430.7L85.78 437.9L78.78 437.9Z" fill="#e2203c" stroke="#b0142c" stroke-width="0.6"/>
<path d="M86.77 383.08L90.27 390.28L83.27 390.28Z" fill="#e2203c" stroke="#b0142c" stroke-width="0.6"/>
<path d="M91.27 430.7L94.77 437.9L87.77 437.9Z" fill="#e2203c" stroke="#b0142c" stroke-width="0.6"/>
<path d="M100.25 430.7L103.75 437.9L96.75 437.9Z" fill="#e2203c" stroke="#b0142c" stroke-width="0.6"/>
<path d="M109.24 430.7L112.74 437.9L105.74 437.9Z" fill="#e2203c" stroke="#b0142c" stroke-width="0.6"/>
<path d="M118.23 425.82L121.73 433.02L114.73 433.02Z" fill="#e2203c" stroke="#b0142c" stroke-width="0.6"/>
<path d="M127.21 398L130.71 405.2L123.71 405.2Z" fill="#e2203c" stroke="#b0142c" stroke-width="0.6"/>
<path d="M136.2 423.24L139.7 430.44L132.7 430.44Z" fill="#e2203c" stroke="#b0142c" stroke-width="0.6"/>
<path d="M145.19 430.7L148.69 437.9L141.69 437.9Z" fill="#e2203c" stroke="#b0142c" stroke-width="0.6"/>
<path d="M181.13 430.7L184.63 437.9L177.63 437.9Z" fill="#e2203c" stroke="#b0142c" stroke-width="0.6"/>
<path d="M226.07 430.7L229.57 437.9L222.57 437.9Z" fill="#e2203c" stroke="#b0142c" stroke-width="0.6"/>
<path d="M257.52 430.7L261.02 437.9L254.02 437.9Z" fill="#e2203c" stroke="#b0142c" stroke-width="0.6"/>
<path d="M308.2 231.8H511V433.1H308.2Z" fill="none" stroke="#111" stroke-width="1.5"/>
<path d="M302.7 433.1H308.2M305.4 427.35H308.2M305.4 421.6H308.2M305.4 415.85H308.2M305.4 410.09H308.2M302.7 404.34H308.2M305.4 398.59H308.2M305.4 392.84H308.2M305.4 387.09H308.2M305.4 381.34H308.2M302.7 375.59H308.2M305.4 369.83H308.2M305.4 364.08H308.2M305.4 358.33H308.2M305.4 352.58H308.2M302.7 346.83H308.2M305.4 341.08H308.2M305.4 335.33H308.2M305.4 329.57H308.2M305.4 323.82H308.2M302.7 318.07H308.2M305.4 312.32H308.2M305.4 306.57H308.2M305.4 300.82H308.2M305.4 295.07H308.2M302.7 289.31H308.2M305.4 283.56H308.2M305.4 277.81H308.2M305.4 272.06H308.2M305.4 266.31H308.2M302.7 260.56H308.2M305.4 254.81H308.2M305.4 249.05H308.2M305.4 243.3H308.2M305.4 237.55H308.2M302.7 231.8H308.2M308.2 433.1V438.6M312.71 433.1V435.9M317.21 433.1V435.9M321.72 433.1V435.9M326.23 433.1V435.9M330.73 433.1V438.6M335.24 433.1V435.9M339.75 433.1V435.9M344.25 433.1V435.9M348.76 433.1V435.9M353.27 433.1V438.6M357.77 433.1V435.9M362.28 433.1V435.9M366.79 433.1V435.9M371.29 433.1V435.9M375.8 433.1V438.6M380.31 433.1V435.9M384.81 433.1V435.9M389.32 433.1V435.9M393.83 433.1V435.9M398.33 433.1V438.6M402.84 433.1V435.9M407.35 433.1V435.9M411.85 433.1V435.9M416.36 433.1V435.9M420.87 433.1V438.6M425.37 433.1V435.9M429.88 433.1V435.9M434.39 433.1V435.9M438.89 433.1V435.9M443.4 433.1V438.6M447.91 433.1V435.9M452.41 433.1V435.9M456.92 433.1V435.9M461.43 433.1V435.9M465.93 433.1V438.6M470.44 433.1V435.9M474.95 433.1V435.9M479.45 433.1V435.9M483.96 433.1V435.9M488.47 433.1V438.6M492.97 433.1V435.9M497.48 433.1V435.9M501.99 433.1V435.9M506.49 433.1V435.9M511 433.1V438.6" fill="none" stroke="#111" stroke-width="1.2"/>
<text x="302.1" y="437.7" text-anchor="end" class="t">0</text>
<text x="302.1" y="408.94" text-anchor="end" class="t">0.1</text>
<text x="302.1" y="380.19" text-anchor="end" class="t">0.2</text>
<text x="302.1" y="351.43" text-anchor="end" class="t">0.3</text>
<text x="302.1" y="322.67" text-anchor="end" class="t">0.4</text>
<text x="302.1" y="293.91" text-anchor="end" class="t">0.5</text>
<text x="302.1" y="265.16" text-anchor="end" class="t">0.6</text>
<text x="302.1" y="236.4" text-anchor="end" class="t">0.7</text>
<text x="308.2" y="451.1" text-anchor="middle" class="t">0</text>
<text x="330.73" y="451.1" text-anchor="middle" class="t">5</text>
<text x="353.27" y="451.1" text-anchor="middle" class="t">10</text>
<text x="375.8" y="451.1" text-anchor="middle" class="t">15</text>
<text x="398.33" y="451.1" text-anchor="middle" class="t">20</text>
<text x="420.87" y="451.1" text-anchor="middle" class="t">25</text>
<text x="443.4" y="451.1" text-anchor="middle" class="t">30</text>
<text x="465.93" y="451.1" text-anchor="middle" class="t">35</text>
<text x="488.47" y="451.1" text-anchor="middle" class="t">40</text>
<text x="511" y="451.1" text-anchor="middle" class="t">45</text>
<text x="333.4" y="256.2" class="ti">280-97</text>
<path d="M308.2 433.1L312.71 431.66L317.21 427.92L321.72 429.94L326.23 417.86L330.73 283.56L335.24 389.96L339.75 423.9L344.25 326.7L366.79 421.6L375.8 433.1L384.81 433.1L420.87 433.1L465.93 433.1L497.48 433.1" fill="none" stroke="#1f2d6e" stroke-width="1.4" stroke-linejoin="round"/>
<path d="M308.2 433.1L312.71 433.1L317.21 430.22L321.72 407.22L326.23 423.32L330.73 429.36L335.24 433.1L344.25 423.9L366.79 418.72L375.8 433.1L384.81 433.1L420.87 433.1L465.93 433.1L497.48 433.1" fill="none" stroke="#43933a" stroke-width="1.4" stroke-linejoin="round"/>
<path d="M308.2 433.1L312.71 430.22L317.21 433.1L321.72 379.32L326.23 385.65L330.73 417L335.24 433.1L339.75 433.1L344.25 433.1L366.79 400.32L375.8 433.1L384.81 433.1L420.87 433.1L465.93 433.1L497.48 428.5" fill="none" stroke="#c32a44" stroke-width="1.4" stroke-linejoin="round"/>
<rect x="304.9" y="429.8" width="6.6" height="6.6" fill="#1e3ae6" stroke="#12208a" stroke-width="0.8"/>
<rect x="309.41" y="428.36" width="6.6" height="6.6" fill="#1e3ae6" stroke="#12208a" stroke-width="0.8"/>
<rect x="313.91" y="424.62" width="6.6" height="6.6" fill="#1e3ae6" stroke="#12208a" stroke-width="0.8"/>
<rect x="318.42" y="426.64" width="6.6" height="6.6" fill="#1e3ae6" stroke="#12208a" stroke-width="0.8"/>
<rect x="322.93" y="414.56" width="6.6" height="6.6" fill="#1e3ae6" stroke="#12208a" stroke-width="0.8"/>
<rect x="327.43" y="280.26" width="6.6" height="6.6" fill="#1e3ae6" stroke="#12208a" stroke-width="0.8"/>
<rect x="331.94" y="386.66" width="6.6" height="6.6" fill="#1e3ae6" stroke="#12208a" stroke-width="0.8"/>
<rect x="336.45" y="420.6" width="6.6" height="6.6" fill="#1e3ae6" stroke="#12208a" stroke-width="0.8"/>
<rect x="340.95" y="323.4" width="6.6" height="6.6" fill="#1e3ae6" stroke="#12208a" stroke-width="0.8"/>
<rect x="363.49" y="418.3" width="6.6" height="6.6" fill="#1e3ae6" stroke="#12208a" stroke-width="0.8"/>
<rect x="372.5" y="429.8" width="6.6" height="6.6" fill="#1e3ae6" stroke="#12208a" stroke-width="0.8"/>
<rect x="381.51" y="429.8" width="6.6" height="6.6" fill="#1e3ae6" stroke="#12208a" stroke-width="0.8"/>
<rect x="417.57" y="429.8" width="6.6" height="6.6" fill="#1e3ae6" stroke="#12208a" stroke-width="0.8"/>
<rect x="462.63" y="429.8" width="6.6" height="6.6" fill="#1e3ae6" stroke="#12208a" stroke-width="0.8"/>
<rect x="494.18" y="429.8" width="6.6" height="6.6" fill="#1e3ae6" stroke="#12208a" stroke-width="0.8"/>
<circle cx="308.2" cy="433.1" r="3.3" fill="#3aae22" stroke="#20801a" stroke-width="0.6"/>
<circle cx="312.71" cy="433.1" r="3.3" fill="#3aae22" stroke="#20801a" stroke-width="0.6"/>
<circle cx="317.21" cy="430.22" r="3.3" fill="#3aae22" stroke="#20801a" stroke-width="0.6"/>
<circle cx="321.72" cy="407.22" r="3.3" fill="#3aae22" stroke="#20801a" stroke-width="0.6"/>
<circle cx="326.23" cy="423.32" r="3.3" fill="#3aae22" stroke="#20801a" stroke-width="0.6"/>
<circle cx="330.73" cy="429.36" r="3.3" fill="#3aae22" stroke="#20801a" stroke-width="0.6"/>
<circle cx="335.24" cy="433.1" r="3.3" fill="#3aae22" stroke="#20801a" stroke-width="0.6"/>
<circle cx="344.25" cy="423.9" r="3.3" fill="#3aae22" stroke="#20801a" stroke-width="0.6"/>
<circle cx="366.79" cy="418.72" r="3.3" fill="#3aae22" stroke="#20801a" stroke-width="0.6"/>
<circle cx="375.8" cy="433.1" r="3.3" fill="#3aae22" stroke="#20801a" stroke-width="0.6"/>
<circle cx="384.81" cy="433.1" r="3.3" fill="#3aae22" stroke="#20801a" stroke-width="0.6"/>
<circle cx="420.87" cy="433.1" r="3.3" fill="#3aae22" stroke="#20801a" stroke-width="0.6"/>
<circle cx="465.93" cy="433.1" r="3.3" fill="#3aae22" stroke="#20801a" stroke-width="0.6"/>
<circle cx="497.48" cy="433.1" r="3.3" fill="#3aae22" stroke="#20801a" stroke-width="0.6"/>
<path d="M308.2 429.2L311.7 436.4L304.7 436.4Z" fill="#e2203c" stroke="#b0142c" stroke-width="0.6"/>
<path d="M312.71 426.32L316.21 433.52L309.21 433.52Z" fill="#e2203c" stroke="#b0142c" stroke-width="0.6"/>
<path d="M317.21 429.2L320.71 436.4L313.71 436.4Z" fill="#e2203c" stroke="#b0142c" stroke-width="0.6"/>
<path d="M321.72 375.42L325.22 382.62L318.22 382.62Z" fill="#e2203c" stroke="#b0142c" stroke-width="0.6"/>
<path d="M326.23 381.75L329.73 388.95L322.73 388.95Z" fill="#e2203c" stroke="#b0142c" stroke-width="0.6"/>
<path d="M330.73 413.1L334.23 420.3L327.23 420.3Z" fill="#e2203c" stroke="#b0142c" stroke-width="0.6"/>
<path d="M335.24 429.2L338.74 436.4L331.74 436.4Z" fill="#e2203c" stroke="#b0142c" stroke-width="0.6"/>
<path d="M339.75 429.2L343.25 436.4L336.25 436.4Z" fill="#e2203c" stroke="#b0142c" stroke-width="0.6"/>
<path d="M344.25 429.2L347.75 436.4L340.75 436.4Z" fill="#e2203c" stroke="#b0142c" stroke-width="0.6"/>
<path d="M366.79 396.42L370.29 403.62L363.29 403.62Z" fill="#e2203c" stroke="#b0142c" stroke-width="0.6"/>
<path d="M375.8 429.2L379.3 436.4L372.3 436.4Z" fill="#e2203c" stroke="#b0142c" stroke-width="0.6"/>
<path d="M384.81 429.2L388.31 436.4L381.31 436.4Z" fill="#e2203c" stroke="#b0142c" stroke-width="0.6"/>
<path d="M420.87 429.2L424.37 436.4L417.37 436.4Z" fill="#e2203c" stroke="#b0142c" stroke-width="0.6"/>
<path d="M465.93 429.2L469.43 436.4L462.43 436.4Z" fill="#e2203c" stroke="#b0142c" stroke-width="0.6"/>
<path d="M497.48 424.6L500.98 431.8L493.98 431.8Z" fill="#e2203c" stroke="#b0142c" stroke-width="0.6"/>
<path d="M67.8 458.3H270V660.6H67.8Z" fill="none" stroke="#111" stroke-width="1.5"/>
<path d="M62.3 660.6H67.8M65 654.82H67.8M65 649.04H67.8M65 643.26H67.8M65 637.48H67.8M62.3 631.7H67.8M65 625.92H67.8M65 620.14H67.8M65 614.36H67.8M65 608.58H67.8M62.3 602.8H67.8M65 597.02H67.8M65 591.24H67.8M65 585.46H67.8M65 579.68H67.8M62.3 573.9H67.8M65 568.12H67.8M65 562.34H67.8M65 556.56H67.8M65 550.78H67.8M62.3 545H67.8M65 539.22H67.8M65 533.44H67.8M65 527.66H67.8M65 521.88H67.8M62.3 516.1H67.8M65 510.32H67.8M65 504.54H67.8M65 498.76H67.8M65 492.98H67.8M62.3 487.2H67.8M65 481.42H67.8M65 475.64H67.8M65 469.86H67.8M65 464.08H67.8M62.3 458.3H67.8M67.8 660.6V666.1M73.58 660.6V663.4M79.35 660.6V663.4M85.13 660.6V663.4M90.91 660.6V663.4M96.69 660.6V666.1M102.46 660.6V663.4M108.24 660.6V663.4M114.02 660.6V663.4M119.79 660.6V663.4M125.57 660.6V666.1M131.35 660.6V663.4M137.13 660.6V663.4M142.9 660.6V663.4M148.68 660.6V663.4M154.46 660.6V666.1M160.23 660.6V663.4M166.01 660.6V663.4M171.79 660.6V663.4M177.57 660.6V663.4M183.34 660.6V666.1M189.12 660.6V663.4M194.9 660.6V663.4M200.67 660.6V663.4M206.45 660.6V663.4M212.23 660.6V666.1M218.01 660.6V663.4M223.78 660.6V663.4M229.56 660.6V663.4M235.34 660.6V663.4M241.11 660.6V666.1M246.89 660.6V663.4M252.67 660.6V663.4M258.45 660.6V663.4M264.22 660.6V663.4M270 660.6V666.1" fill="none" stroke="#111" stroke-width="1.2"/>
<text x="61.7" y="665.2" text-anchor="end" class="t">0</text>
<text x="61.7" y="636.3" text-anchor="end" class="t">0.1</text>
<text x="61.7" y="607.4" text-anchor="end" class="t">0.2</text>
<text x="61.7" y="578.5" text-anchor="end" class="t">0.3</text>
<text x="61.7" y="549.6" text-anchor="end" class="t">0.4</text>
<text x="61.7" y="520.7" text-anchor="end" class="t">0.5</text>
<text x="61.7" y="491.8" text-anchor="end" class="t">0.6</text>
<text x="61.7" y="462.9" text-anchor="end" class="t">0.7</text>
<text x="67.8" y="678.6" text-anchor="middle" class="t">0</text>
<text x="96.69" y="678.6" text-anchor="middle" class="t">5</text>
<text x="125.57" y="678.6" text-anchor="middle" class="t">10</text>
<text x="154.46" y="678.6" text-anchor="middle" class="t">15</text>
<text x="183.34" y="678.6" text-anchor="middle" class="t">20</text>
<text x="212.23" y="678.6" text-anchor="middle" class="t">25</text>
<text x="241.11" y="678.6" text-anchor="middle" class="t">30</text>
<text x="270" y="678.6" text-anchor="middle" class="t">35</text>
<text x="90" y="488.5" class="ti">250-97</text>
<path d="M67.8 660.6L73.58 660.6L79.35 659.44L85.13 658.87L90.91 656.55L96.69 658.29L102.46 659.15L108.24 659.44L114.02 658.87L131.35 660.6L137.13 660.6L148.68 660.6L160.23 660.6L171.79 660.6L183.34 660.6L206.45 660.6L270 660.6" fill="none" stroke="#1f2d6e" stroke-width="1.4" stroke-linejoin="round"/>
<path d="M67.8 660.6L73.58 660.6L79.35 620.14L85.13 627.94L90.91 641.82L96.69 653.38L102.46 657.71L108.24 653.38L114.02 641.82L131.35 660.6L137.13 660.6L148.68 660.6L160.23 660.6L171.79 660.6L183.34 660.6L206.45 659.15L270 660.6" fill="none" stroke="#43933a" stroke-width="1.4" stroke-linejoin="round"/>
<path d="M67.8 660.6L73.58 660.6L79.35 588.64L85.13 640.37L90.91 632.57L96.69 657.71L102.46 659.15L108.24 657.71L114.02 660.6L131.35 660.6L137.13 660.6L148.68 660.6L160.23 660.6L171.79 660.6L183.34 660.6L206.45 653.95L270 660.6" fill="none" stroke="#c32a44" stroke-width="1.4" stroke-linejoin="round"/>
<rect x="64.5" y="657.3" width="6.6" height="6.6" fill="#1e3ae6" stroke="#12208a" stroke-width="0.8"/>
<rect x="70.28" y="657.3" width="6.6" height="6.6" fill="#1e3ae6" stroke="#12208a" stroke-width="0.8"/>
<rect x="76.05" y="656.14" width="6.6" height="6.6" fill="#1e3ae6" stroke="#12208a" stroke-width="0.8"/>
<rect x="81.83" y="655.57" width="6.6" height="6.6" fill="#1e3ae6" stroke="#12208a" stroke-width="0.8"/>
<rect x="87.61" y="653.25" width="6.6" height="6.6" fill="#1e3ae6" stroke="#12208a" stroke-width="0.8"/>
<rect x="93.39" y="654.99" width="6.6" height="6.6" fill="#1e3ae6" stroke="#12208a" stroke-width="0.8"/>
<rect x="99.16" y="655.86" width="6.6" height="6.6" fill="#1e3ae6" stroke="#12208a" stroke-width="0.8"/>
<rect x="104.94" y="656.14" width="6.6" height="6.6" fill="#1e3ae6" stroke="#12208a" stroke-width="0.8"/>
<rect x="110.72" y="655.57" width="6.6" height="6.6" fill="#1e3ae6" stroke="#12208a" stroke-width="0.8"/>
<rect x="128.05" y="657.3" width="6.6" height="6.6" fill="#1e3ae6" stroke="#12208a" stroke-width="0.8"/>
<rect x="133.83" y="657.3" width="6.6" height="6.6" fill="#1e3ae6" stroke="#12208a" stroke-width="0.8"/>
<rect x="145.38" y="657.3" width="6.6" height="6.6" fill="#1e3ae6" stroke="#12208a" stroke-width="0.8"/>
<rect x="156.93" y="657.3" width="6.6" height="6.6" fill="#1e3ae6" stroke="#12208a" stroke-width="0.8"/>
<rect x="168.49" y="657.3" width="6.6" height="6.6" fill="#1e3ae6" stroke="#12208a" stroke-width="0.8"/>
<rect x="180.04" y="657.3" width="6.6" height="6.6" fill="#1e3ae6" stroke="#12208a" stroke-width="0.8"/>
<rect x="203.15" y="657.3" width="6.6" height="6.6" fill="#1e3ae6" stroke="#12208a" stroke-width="0.8"/>
<rect x="266.7" y="657.3" width="6.6" height="6.6" fill="#1e3ae6" stroke="#12208a" stroke-width="0.8"/>
<circle cx="67.8" cy="660.6" r="3.3" fill="#3aae22" stroke="#20801a" stroke-width="0.6"/>
<circle cx="73.58" cy="660.6" r="3.3" fill="#3aae22" stroke="#20801a" stroke-width="0.6"/>
<circle cx="79.35" cy="620.14" r="3.3" fill="#3aae22" stroke="#20801a" stroke-width="0.6"/>
<circle cx="85.13" cy="627.94" r="3.3" fill="#3aae22" stroke="#20801a" stroke-width="0.6"/>
<circle cx="90.91" cy="641.82" r="3.3" fill="#3aae22" stroke="#20801a" stroke-width="0.6"/>
<circle cx="96.69" cy="653.38" r="3.3" fill="#3aae22" stroke="#20801a" stroke-width="0.6"/>
<circle cx="102.46" cy="657.71" r="3.3" fill="#3aae22" stroke="#20801a" stroke-width="0.6"/>
<circle cx="108.24" cy="653.38" r="3.3" fill="#3aae22" stroke="#20801a" stroke-width="0.6"/>
<circle cx="114.02" cy="641.82" r="3.3" fill="#3aae22" stroke="#20801a" stroke-width="0.6"/>
<circle cx="131.35" cy="660.6" r="3.3" fill="#3aae22" stroke="#20801a" stroke-width="0.6"/>
<circle cx="137.13" cy="660.6" r="3.3" fill="#3aae22" stroke="#20801a" stroke-width="0.6"/>
<circle cx="148.68" cy="660.6" r="3.3" fill="#3aae22" stroke="#20801a" stroke-width="0.6"/>
<circle cx="160.23" cy="660.6" r="3.3" fill="#3aae22" stroke="#20801a" stroke-width="0.6"/>
<circle cx="171.79" cy="660.6" r="3.3" fill="#3aae22" stroke="#20801a" stroke-width="0.6"/>
<circle cx="183.34" cy="660.6" r="3.3" fill="#3aae22" stroke="#20801a" stroke-width="0.6"/>
<circle cx="206.45" cy="659.15" r="3.3" fill="#3aae22" stroke="#20801a" stroke-width="0.6"/>
<circle cx="270" cy="660.6" r="3.3" fill="#3aae22" stroke="#20801a" stroke-width="0.6"/>
<path d="M67.8 656.7L71.3 663.9L64.3 663.9Z" fill="#e2203c" stroke="#b0142c" stroke-width="0.6"/>
<path d="M73.58 656.7L77.08 663.9L70.08 663.9Z" fill="#e2203c" stroke="#b0142c" stroke-width="0.6"/>
<path d="M79.35 584.74L82.85 591.94L75.85 591.94Z" fill="#e2203c" stroke="#b0142c" stroke-width="0.6"/>
<path d="M85.13 636.47L88.63 643.67L81.63 643.67Z" fill="#e2203c" stroke="#b0142c" stroke-width="0.6"/>
<path d="M90.91 628.67L94.41 635.87L87.41 635.87Z" fill="#e2203c" stroke="#b0142c" stroke-width="0.6"/>
<path d="M96.69 653.81L100.19 661.01L93.19 661.01Z" fill="#e2203c" stroke="#b0142c" stroke-width="0.6"/>
<path d="M102.46 655.25L105.96 662.45L98.96 662.45Z" fill="#e2203c" stroke="#b0142c" stroke-width="0.6"/>
<path d="M108.24 653.81L111.74 661.01L104.74 661.01Z" fill="#e2203c" stroke="#b0142c" stroke-width="0.6"/>
<path d="M114.02 656.7L117.52 663.9L110.52 663.9Z" fill="#e2203c" stroke="#b0142c" stroke-width="0.6"/>
<path d="M131.35 656.7L134.85 663.9L127.85 663.9Z" fill="#e2203c" stroke="#b0142c" stroke-width="0.6"/>
<path d="M137.13 656.7L140.63 663.9L133.63 663.9Z" fill="#e2203c" stroke="#b0142c" stroke-width="0.6"/>
<path d="M148.68 656.7L152.18 663.9L145.18 663.9Z" fill="#e2203c" stroke="#b0142c" stroke-width="0.6"/>
<path d="M160.23 656.7L163.73 663.9L156.73 663.9Z" fill="#e2203c" stroke="#b0142c" stroke-width="0.6"/>
<path d="M171.79 656.7L175.29 663.9L168.29 663.9Z" fill="#e2203c" stroke="#b0142c" stroke-width="0.6"/>
<path d="M183.34 656.7L186.84 663.9L179.84 663.9Z" fill="#e2203c" stroke="#b0142c" stroke-width="0.6"/>
<path d="M206.45 650.05L209.95 657.25L202.95 657.25Z" fill="#e2203c" stroke="#b0142c" stroke-width="0.6"/>
<path d="M270 656.7L273.5 663.9L266.5 663.9Z" fill="#e2203c" stroke="#b0142c" stroke-width="0.6"/>
<path d="M306.8 457.3H509.8V659.6H306.8Z" fill="none" stroke="#111" stroke-width="1.5"/>
<path d="M301.3 659.6H306.8M304 653.82H306.8M304 648.04H306.8M304 642.26H306.8M304 636.48H306.8M301.3 630.7H306.8M304 624.92H306.8M304 619.14H306.8M304 613.36H306.8M304 607.58H306.8M301.3 601.8H306.8M304 596.02H306.8M304 590.24H306.8M304 584.46H306.8M304 578.68H306.8M301.3 572.9H306.8M304 567.12H306.8M304 561.34H306.8M304 555.56H306.8M304 549.78H306.8M301.3 544H306.8M304 538.22H306.8M304 532.44H306.8M304 526.66H306.8M304 520.88H306.8M301.3 515.1H306.8M304 509.32H306.8M304 503.54H306.8M304 497.76H306.8M304 491.98H306.8M301.3 486.2H306.8M304 480.42H306.8M304 474.64H306.8M304 468.86H306.8M304 463.08H306.8M301.3 457.3H306.8M306.8 659.6V665.1M313.57 659.6V662.4M320.33 659.6V662.4M327.1 659.6V662.4M333.87 659.6V662.4M340.63 659.6V665.1M347.4 659.6V662.4M354.17 659.6V662.4M360.93 659.6V662.4M367.7 659.6V662.4M374.47 659.6V665.1M381.23 659.6V662.4M388 659.6V662.4M394.77 659.6V662.4M401.53 659.6V662.4M408.3 659.6V665.1M415.07 659.6V662.4M421.83 659.6V662.4M428.6 659.6V662.4M435.37 659.6V662.4M442.13 659.6V665.1M448.9 659.6V662.4M455.67 659.6V662.4M462.43 659.6V662.4M469.2 659.6V662.4M475.97 659.6V665.1M482.73 659.6V662.4M489.5 659.6V662.4M496.27 659.6V662.4M503.03 659.6V662.4M509.8 659.6V665.1" fill="none" stroke="#111" stroke-width="1.2"/>
<text x="300.7" y="664.2" text-anchor="end" class="t">0</text>
<text x="300.7" y="635.3" text-anchor="end" class="t">0.1</text>
<text x="300.7" y="606.4" text-anchor="end" class="t">0.2</text>
<text x="300.7" y="577.5" text-anchor="end" class="t">0.3</text>
<text x="300.7" y="548.6" text-anchor="end" class="t">0.4</text>
<text x="300.7" y="519.7" text-anchor="end" class="t">0.5</text>
<text x="300.7" y="490.8" text-anchor="end" class="t">0.6</text>
<text x="300.7" y="461.9" text-anchor="end" class="t">0.7</text>
<text x="306.8" y="677.6" text-anchor="middle" class="t">0</text>
<text x="340.63" y="677.6" text-anchor="middle" class="t">5</text>
<text x="374.47" y="677.6" text-anchor="middle" class="t">10</text>
<text x="408.3" y="677.6" text-anchor="middle" class="t">15</text>
<text x="442.13" y="677.6" text-anchor="middle" class="t">20</text>
<text x="475.97" y="677.6" text-anchor="middle" class="t">25</text>
<text x="509.8" y="677.6" text-anchor="middle" class="t">30</text>
<text x="333.3" y="487.7" class="ti">256-97</text>
<path d="M306.8 659.6L313.57 652.38L320.33 658.44L327.1 658.44L333.87 658.44L340.63 656.13L354.17 655.26L367.7 653.24L381.23 643.99L401.53 653.53L415.07 655.84L428.6 659.6L442.13 659.6L469.2 659.6L489.5 659.6" fill="none" stroke="#1f2d6e" stroke-width="1.4" stroke-linejoin="round"/>
<path d="M306.8 659.6L313.57 659.6L320.33 626.94L327.1 626.94L333.87 655.26L340.63 638.5L354.17 655.26L367.7 659.6L381.23 659.6L401.53 658.44L415.07 659.6L428.6 659.6L442.13 659.6L469.2 659.6L489.5 659.6" fill="none" stroke="#43933a" stroke-width="1.4" stroke-linejoin="round"/>
<path d="M306.8 659.6L313.57 659.6L320.33 626.08L327.1 593.71L333.87 648.62L340.63 650.93L354.17 659.6L367.7 659.6L381.23 659.6L401.53 655.84L415.07 659.6L428.6 659.6L442.13 659.6L469.2 659.6L489.5 659.6" fill="none" stroke="#c32a44" stroke-width="1.4" stroke-linejoin="round"/>
<rect x="303.5" y="656.3" width="6.6" height="6.6" fill="#1e3ae6" stroke="#12208a" stroke-width="0.8"/>
<rect x="310.27" y="649.08" width="6.6" height="6.6" fill="#1e3ae6" stroke="#12208a" stroke-width="0.8"/>
<rect x="317.03" y="655.14" width="6.6" height="6.6" fill="#1e3ae6" stroke="#12208a" stroke-width="0.8"/>
<rect x="323.8" y="655.14" width="6.6" height="6.6" fill="#1e3ae6" stroke="#12208a" stroke-width="0.8"/>
<rect x="330.57" y="655.14" width="6.6" height="6.6" fill="#1e3ae6" stroke="#12208a" stroke-width="0.8"/>
<rect x="337.33" y="652.83" width="6.6" height="6.6" fill="#1e3ae6" stroke="#12208a" stroke-width="0.8"/>
<rect x="350.87" y="651.97" width="6.6" height="6.6" fill="#1e3ae6" stroke="#12208a" stroke-width="0.8"/>
<rect x="364.4" y="649.94" width="6.6" height="6.6" fill="#1e3ae6" stroke="#12208a" stroke-width="0.8"/>
<rect x="377.93" y="640.69" width="6.6" height="6.6" fill="#1e3ae6" stroke="#12208a" stroke-width="0.8"/>
<rect x="398.23" y="650.23" width="6.6" height="6.6" fill="#1e3ae6" stroke="#12208a" stroke-width="0.8"/>
<rect x="411.77" y="652.54" width="6.6" height="6.6" fill="#1e3ae6" stroke="#12208a" stroke-width="0.8"/>
<rect x="425.3" y="656.3" width="6.6" height="6.6" fill="#1e3ae6" stroke="#12208a" stroke-width="0.8"/>
<rect x="438.83" y="656.3" width="6.6" height="6.6" fill="#1e3ae6" stroke="#12208a" stroke-width="0.8"/>
<rect x="465.9" y="656.3" width="6.6" height="6.6" fill="#1e3ae6" stroke="#12208a" stroke-width="0.8"/>
<rect x="486.2" y="656.3" width="6.6" height="6.6" fill="#1e3ae6" stroke="#12208a" stroke-width="0.8"/>
<circle cx="306.8" cy="659.6" r="3.3" fill="#3aae22" stroke="#20801a" stroke-width="0.6"/>
<circle cx="313.57" cy="659.6" r="3.3" fill="#3aae22" stroke="#20801a" stroke-width="0.6"/>
<circle cx="320.33" cy="626.94" r="3.3" fill="#3aae22" stroke="#20801a" stroke-width="0.6"/>
<circle cx="327.1" cy="626.94" r="3.3" fill="#3aae22" stroke="#20801a" stroke-width="0.6"/>
<circle cx="333.87" cy="655.26" r="3.3" fill="#3aae22" stroke="#20801a" stroke-width="0.6"/>
<circle cx="340.63" cy="638.5" r="3.3" fill="#3aae22" stroke="#20801a" stroke-width="0.6"/>
<circle cx="354.17" cy="655.26" r="3.3" fill="#3aae22" stroke="#20801a" stroke-width="0.6"/>
<circle cx="367.7" cy="659.6" r="3.3" fill="#3aae22" stroke="#20801a" stroke-width="0.6"/>
<circle cx="381.23" cy="659.6" r="3.3" fill="#3aae22" stroke="#20801a" stroke-width="0.6"/>
<circle cx="401.53" cy="658.44" r="3.3" fill="#3aae22" stroke="#20801a" stroke-width="0.6"/>
<circle cx="415.07" cy="659.6" r="3.3" fill="#3aae22" stroke="#20801a" stroke-width="0.6"/>
<circle cx="428.6" cy="659.6" r="3.3" fill="#3aae22" stroke="#20801a" stroke-width="0.6"/>
<circle cx="442.13" cy="659.6" r="3.3" fill="#3aae22" stroke="#20801a" stroke-width="0.6"/>
<circle cx="469.2" cy="659.6" r="3.3" fill="#3aae22" stroke="#20801a" stroke-width="0.6"/>
<circle cx="489.5" cy="659.6" r="3.3" fill="#3aae22" stroke="#20801a" stroke-width="0.6"/>
<path d="M306.8 655.7L310.3 662.9L303.3 662.9Z" fill="#e2203c" stroke="#b0142c" stroke-width="0.6"/>
<path d="M313.57 655.7L317.07 662.9L310.07 662.9Z" fill="#e2203c" stroke="#b0142c" stroke-width="0.6"/>
<path d="M320.33 622.18L323.83 629.38L316.83 629.38Z" fill="#e2203c" stroke="#b0142c" stroke-width="0.6"/>
<path d="M327.1 589.81L330.6 597.01L323.6 597.01Z" fill="#e2203c" stroke="#b0142c" stroke-width="0.6"/>
<path d="M333.87 644.72L337.37 651.92L330.37 651.92Z" fill="#e2203c" stroke="#b0142c" stroke-width="0.6"/>
<path d="M340.63 647.03L344.13 654.23L337.13 654.23Z" fill="#e2203c" stroke="#b0142c" stroke-width="0.6"/>
<path d="M354.17 655.7L357.67 662.9L350.67 662.9Z" fill="#e2203c" stroke="#b0142c" stroke-width="0.6"/>
<path d="M367.7 655.7L371.2 662.9L364.2 662.9Z" fill="#e2203c" stroke="#b0142c" stroke-width="0.6"/>
<path d="M381.23 655.7L384.73 662.9L377.73 662.9Z" fill="#e2203c" stroke="#b0142c" stroke-width="0.6"/>
<path d="M401.53 651.94L405.03 659.14L398.03 659.14Z" fill="#e2203c" stroke="#b0142c" stroke-width="0.6"/>
<path d="M415.07 655.7L418.57 662.9L411.57 662.9Z" fill="#e2203c" stroke="#b0142c" stroke-width="0.6"/>
<path d="M428.6 655.7L432.1 662.9L425.1 662.9Z" fill="#e2203c" stroke="#b0142c" stroke-width="0.6"/>
<path d="M442.13 655.7L445.63 662.9L438.63 662.9Z" fill="#e2203c" stroke="#b0142c" stroke-width="0.6"/>
<path d="M469.2 655.7L472.7 662.9L465.7 662.9Z" fill="#e2203c" stroke="#b0142c" stroke-width="0.6"/>
<path d="M489.5 655.7L493 662.9L486 662.9Z" fill="#e2203c" stroke="#b0142c" stroke-width="0.6"/>
<text transform="translate(14.7 105) rotate(-90)" text-anchor="middle" class="yl">% eGFP Expression</text>
<text transform="translate(14.7 334) rotate(-90)" text-anchor="middle" class="yl">% eGFP Expression</text>
<text transform="translate(14.7 558.4) rotate(-90)" text-anchor="middle" class="yl">% eGFP Expression</text>
<text y="692.9" class="xl"><tspan x="100.6">Weeks</tspan><tspan x="146.2">After</tspan><tspan x="177.2">Transplant</tspan></text>
<text y="692.2" class="xl"><tspan x="341.6">Weeks</tspan><tspan x="384.6">After</tspan><tspan x="415.1">Transplant</tspan></text>
<rect x="401.5" y="19.2" width="97.5" height="68" fill="#fff" stroke="#111" stroke-width="1.3"/>
<path d="M411 30.8H434" stroke="#1f2d6e" stroke-width="1"/>
<rect x="419" y="27.4" width="6.8" height="6.8" fill="#1e3ae6" stroke="#12208a" stroke-width="0.8"/>
<text x="443.2" y="35.1" class="lg">CD3</text>
<path d="M411 53.3H434" stroke="#43933a" stroke-width="1"/>
<circle cx="422.4" cy="53.3" r="3.4" fill="#3aae22" stroke="#20801a" stroke-width="0.6"/>
<text x="443.2" y="57.7" class="lg">CD20</text>
<path d="M411 76.4H434" stroke="#c32a44" stroke-width="1"/>
<path d="M422.4 72.4L426 79.8L418.8 79.8Z" fill="#e2203c" stroke="#b0142c" stroke-width="0.6"/>
<text x="443.2" y="79.8" class="lg">GRANS</text>
</svg>
</body></html>
